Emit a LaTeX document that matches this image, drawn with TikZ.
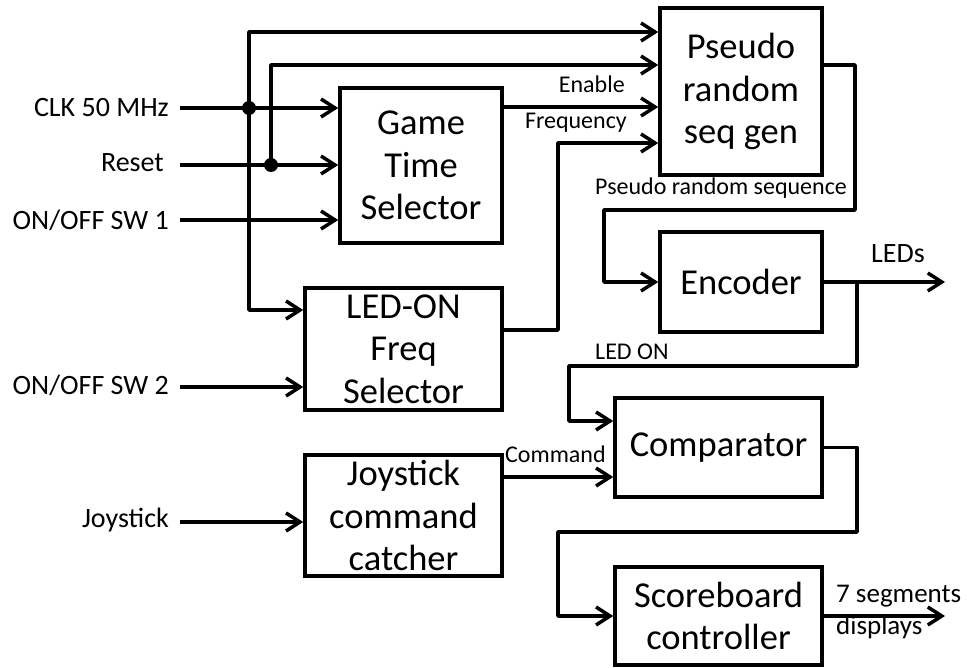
\documentclass[tikz,border=0pt]{standalone}
\usepackage{fontspec}
\setmainfont{Carlito}
\usetikzlibrary{arrows.meta}
\tikzset{
  blk/.style={draw, line width=3.5pt, align=center, inner sep=0pt,
    font=\fontsize{36.5}{42.5}\selectfont},
  wire/.style={line width=3.5pt, line join=round},
  arr/.style={wire, -{Straight Barb[length=14pt,width=18pt]}},
  lbl/.style={font=\fontsize{28}{32}\selectfont, inner sep=0pt},
  sml/.style={font=\fontsize{24}{26}\selectfont, inner sep=0pt},
  dot/.style={fill=black}
}
\begin{document}
\begin{tikzpicture}[x=1pt,y=-1pt]
\useasboundingbox (0,0) rectangle (967,668);
% blocks
\node[blk, minimum width=162, minimum height=155] (gts) at (421,165.5) {Game\\Time\\Selector};
\node[blk, minimum width=162, minimum height=167] (prsg) at (741,91.5) {Pseudo\\random\\seq gen};
\node[blk, minimum width=162, minimum height=100] (enc) at (741,282) {Encoder};
\node[blk, minimum width=207, minimum height=99] (cmp) at (718.5,447.5) {Comparator};
\node[blk, minimum width=207, minimum height=98] (sb) at (718.5,616) {Scoreboard\\controller};
\node[blk, minimum width=197, minimum height=122] (led) at (403.5,349) {LED-ON\\Freq\\Selector};
\node[blk, minimum width=197, minimum height=121] (joy) at (403.5,515.5) {Joystick\\command\\catcher};
% input labels
\node[lbl, anchor=east] (lclk) at (169,108) {CLK 50 MHz};
\node[lbl, anchor=east] (lrst) at (164,163) {Reset};
\node[lbl, anchor=east] (lsw1) at (169,220) {ON/OFF SW 1};
\node[lbl, anchor=east] (lsw2) at (169,385) {ON/OFF SW 2};
\node[lbl, anchor=east] (ljoy) at (169,520) {Joystick};
% coordinates
\coordinate (clkS) at (180,108);
\coordinate (rstS) at (180,165);
\coordinate (sw1S) at (180,220);
\coordinate (sw2S) at (180,387);
\coordinate (joyS) at (180,522);
\coordinate (j1) at (249,108);
\coordinate (j2) at (271,165);
\coordinate (v1top) at (249,32);
\coordinate (v1bot) at (249,310);
\coordinate (v2top) at (271,65);
\coordinate (en) at (502,107);
\coordinate (fq) at (558,143);
\coordinate (lo) at (502,330);
\coordinate (p0) at (822,65);
\coordinate (p1) at (855,65);
\coordinate (p2) at (604,210);
\coordinate (outE) at (945,0);
\coordinate (b1) at (857,282);
\coordinate (lo1) at (857,366);
\coordinate (lo2) at (569,421);
\coordinate (cm) at (502,477);
\coordinate (c1) at (857,532);
\coordinate (c2) at (558,616);
% inputs
\draw[arr] (clkS) -- (clkS -| gts.west);
\draw[arr] (rstS) -- (rstS -| gts.west);
\draw[arr] (sw1S) -- (sw1S -| gts.west);
\draw[arr] (sw2S) -- (sw2S -| led.west);
\draw[arr] (joyS) -- (joyS -| joy.west);
\draw[arr] (v1bot) -- (v1top) -- (v1top -| prsg.west);
\draw[arr] (v1top) -- (v1bot) -- (v1bot -| led.west);
\draw[arr] (j2) -- (v2top) -- (v2top -| prsg.west);
\fill[dot] (j1) circle (7pt);
\fill[dot] (j2) circle (7pt);
% internal
\draw[arr] (en) -- (en -| prsg.west);
\draw[arr] (lo) -| (fq) -- (fq -| prsg.west);
\draw[arr] (p0) -- (p1) |- (p2) |- (enc.west);
\draw[arr] (enc.east) -- (enc.east -| outE);
\draw[arr] (b1) -- (lo1) -| (lo2) -- (lo2 -| cmp.west);
\draw[arr] (cm) -- (cm -| cmp.west);
\draw[arr] (cmp.east) -| (c1) -| (c2) -- (sb.west);
\draw[arr] (sb.east) -- (sb.east -| outE);
% connector labels
\node[sml, anchor=base east] (tEn) at (625,93) {Enable};
\node[sml, anchor=base east] (tFq) at (627,129) {Frequency};
\node[sml, anchor=base west] (tPs) at (595,195) {Pseudo random sequence};
\node[lbl, anchor=base west] (tLeds) at (871,263) {LEDs};
\node[sml, anchor=base west] (tLon) at (595,360) {LED ON};
\node[sml, anchor=base west] (tCm) at (505,462) {Command};
\node[lbl, anchor=west, align=left, font=\fontsize{27}{32}\selectfont] (t7) at (836,612) {7 segments\\displays};
\end{tikzpicture}
\end{document}
